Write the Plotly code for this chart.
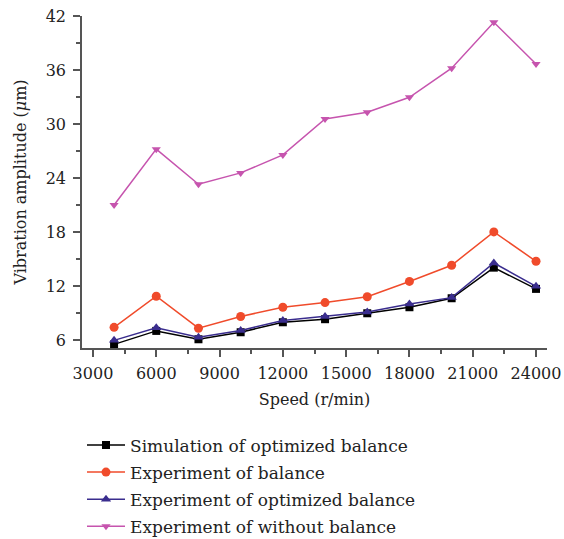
import plotly.graph_objects as go

# Rotor speed (r/min)
speed = [4000, 6000, 8000, 10000, 12000, 14000, 16000, 18000, 20000, 22000, 24000]

# Vibration amplitude (um) for each case
sim_optimized = [5.5, 7.0, 6.07, 6.85, 7.96, 8.3, 8.96, 9.63, 10.63, 14.03, 11.67]
exp_balance = [7.4, 10.85, 7.3, 8.6, 9.63, 10.15, 10.8, 12.5, 14.3, 18.0, 14.74]
exp_optimized = [5.95, 7.35, 6.3, 7.05, 8.15, 8.6, 9.1, 10.0, 10.7, 14.55, 11.95]
exp_without = [21.0, 27.2, 23.3, 24.56, 26.56, 30.56, 31.3, 32.97, 36.2, 41.3, 36.67]

# Axis tick labels
x_ticks = [3000, 6000, 9000, 12000, 15000, 18000, 21000, 24000]
y_ticks = [6, 12, 18, 24, 30, 36, 42]

series = [
    ("Simulation of optimized balance", sim_optimized, "#000000", "square", 8),
    ("Experiment of balance", exp_balance, "#F04B2B", "circle", 9),
    ("Experiment of optimized balance", exp_optimized, "#3A2D8E", "triangle-up", 9),
    ("Experiment of without balance", exp_without, "#C654AE", "triangle-down", 8),
]

FONT = "DejaVu Serif"
TXT = "#222222"
AX = "#555555"

fig = go.Figure()
for i, (name, vals, color, symbol, size) in enumerate(series):
    fig.add_trace(go.Scatter(
        x=speed, y=vals, name=name, mode="lines+markers",
        legendgroup=f"g{i}",
        line=dict(color=color, width=1.5),
        marker=dict(symbol=symbol, size=size, color=color),
    ))

axis_common = dict(
    showline=True, linecolor=AX, linewidth=1.5,
    ticks="outside", ticklen=7, tickwidth=1.5, tickcolor=AX,
    showgrid=False, zeroline=False, mirror=False, automargin=False,
    tickfont=dict(family=FONT, size=16, color=TXT),
)

fig.update_xaxes(
    range=[2480, 24520], tickmode="array",
    tickvals=x_ticks, ticktext=[str(v) for v in x_ticks],
    ticklabelstandoff=3,
    minor=dict(ticks="outside", ticklen=4, tickcolor=AX, dtick=1500, tick0=3000),
    title=dict(text="Speed (r/min)", font=dict(family=FONT, size=16, color=TXT), standoff=12),
    **axis_common,
)
fig.update_yaxes(
    range=[5.1, 42], tickmode="array",
    tickvals=y_ticks, ticktext=[str(v) for v in y_ticks],
    ticklabelstandoff=4,
    minor=dict(ticks="outside", ticklen=4, tickcolor=AX, dtick=3, tick0=0),
    title=dict(text="Vibration amplitude (<i>μ</i>m)", font=dict(family=FONT, size=16, color=TXT), standoff=15),
    **axis_common,
)

fig.update_layout(
    width=564, height=539,
    margin=dict(l=82, r=17, t=16, b=191),
    plot_bgcolor="white", paper_bgcolor="white",
    showlegend=True,
    legend=dict(
        xref="paper", yref="container",
        x=0.0, y=0.207, xanchor="left", yanchor="top",
        font=dict(family=FONT, size=17, color=TXT),
        bgcolor="rgba(0,0,0,0)", traceorder="grouped", tracegroupgap=2,
        itemwidth=38,
    ),
)

fig.write_html("out.html")
